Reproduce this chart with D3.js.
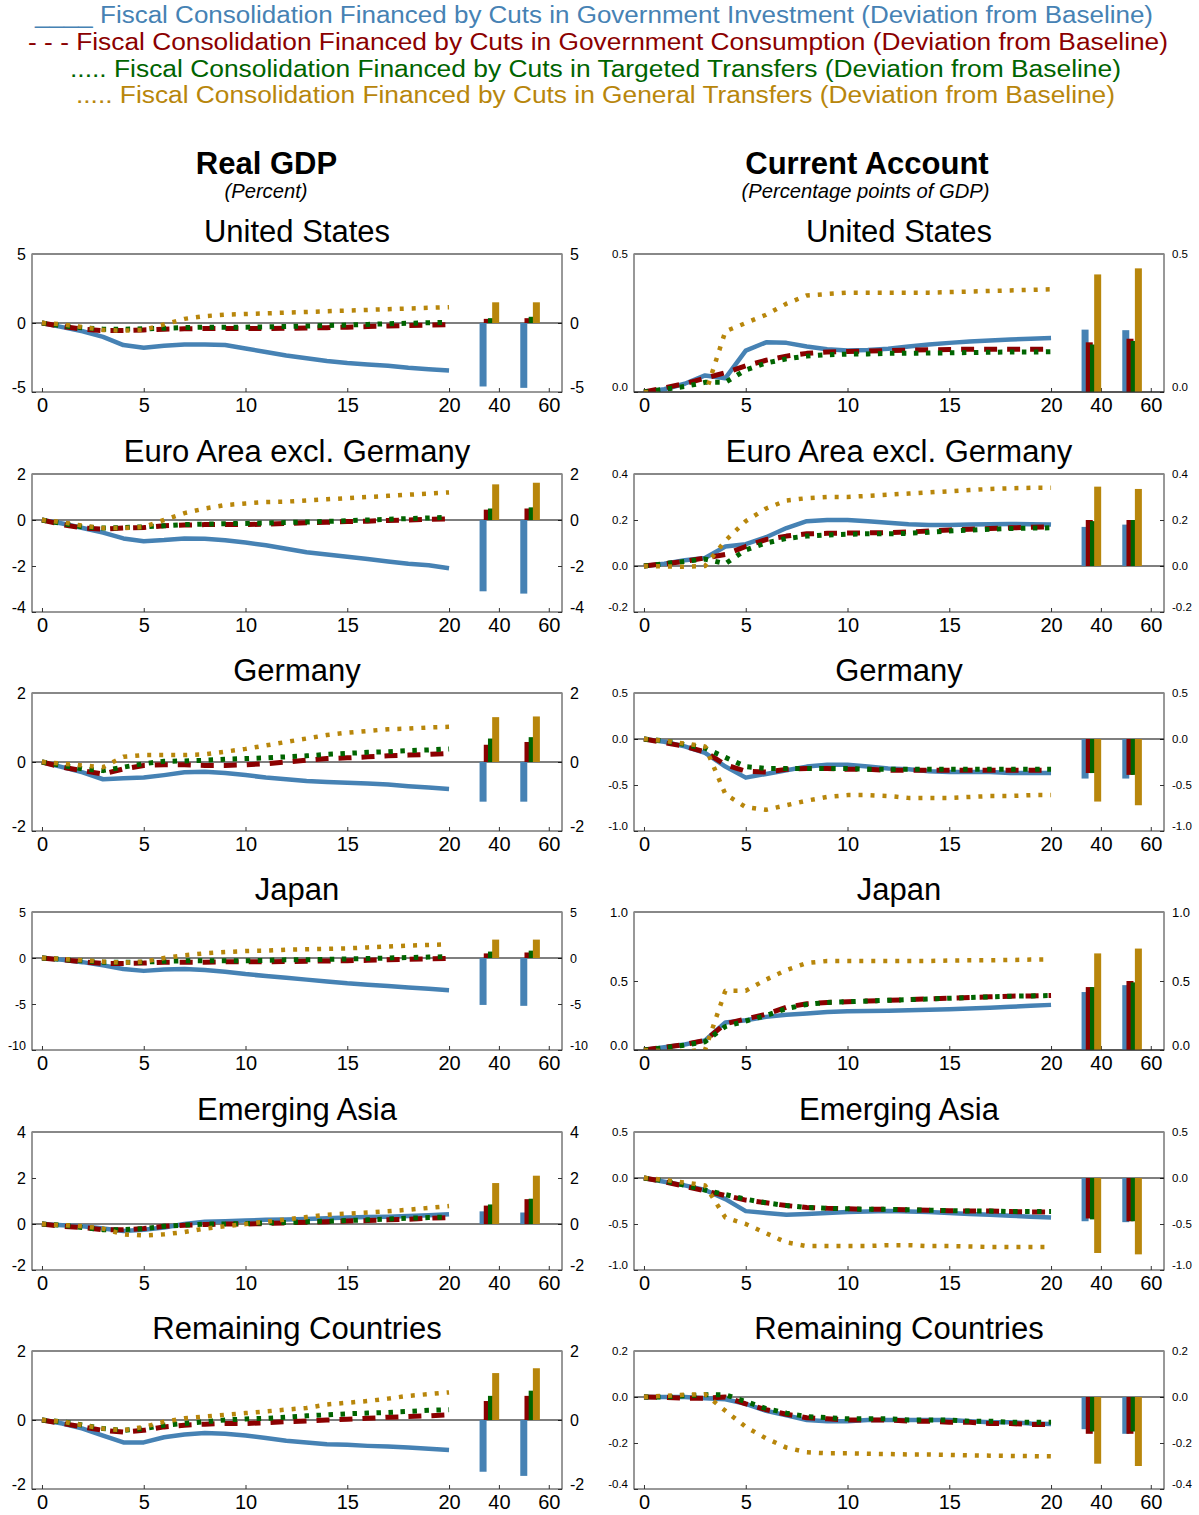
<!DOCTYPE html>
<html><head><meta charset="utf-8">
<script src="https://cdn.jsdelivr.net/npm/d3@7"></script>
<style>
body{margin:0;background:#fff}
svg text{font-family:"Liberation Sans",Arial,Helvetica,sans-serif}
</style>
</head><body>
<svg id="chart" width="1199" height="1515"></svg>
<script>
// ---------- DATA ----------
const periods = [0,1,2,3,4,5,6,7,8,9,10,11,12,13,14,15,16,17,18,19,20];
const periodTicks = [0,5,10,15,20];
const longRunLabels = ["40","60"];
const legendLabels = [
  "____ Fiscal Consolidation Financed by Cuts in Government Investment (Deviation from Baseline)",
  "- - - Fiscal Consolidation Financed by Cuts in Government Consumption (Deviation from Baseline)",
  "..... Fiscal Consolidation Financed by Cuts in Targeted Transfers (Deviation from Baseline)",
  "..... Fiscal Consolidation Financed by Cuts in General Transfers (Deviation from Baseline)"
];
const columnTitles = ["Real GDP","Current Account"];
const columnSubtitles = ["(Percent)","(Percentage points of GDP)"];
const regions = ["United States","Euro Area excl. Germany","Germany","Japan","Emerging Asia","Remaining Countries"];

// Real GDP (percent)
const usGdpInv  = [0,-0.3,-0.6,-1.0,-1.6,-1.8,-1.65,-1.55,-1.55,-1.6,-1.85,-2.1,-2.35,-2.55,-2.75,-2.9,-3.0,-3.1,-3.25,-3.35,-3.45];
const usGdpCons = [0,-0.25,-0.45,-0.55,-0.55,-0.5,-0.45,-0.42,-0.4,-0.4,-0.4,-0.4,-0.38,-0.36,-0.34,-0.3,-0.26,-0.22,-0.18,-0.15,-0.12];
const usGdpTarg = [0,-0.2,-0.35,-0.45,-0.45,-0.42,-0.38,-0.33,-0.3,-0.3,-0.3,-0.28,-0.25,-0.22,-0.18,-0.15,-0.1,-0.05,-0.02,0.02,0.05];
const usGdpGen  = [0,-0.1,-0.3,-0.5,-0.55,-0.5,-0.1,0.3,0.5,0.6,0.65,0.7,0.75,0.8,0.85,0.9,0.95,1.0,1.05,1.1,1.15];
const usGdpLR40 = [-4.6,0.3,0.35,1.5];
const usGdpLR60 = [-4.7,0.35,0.45,1.5];

const euGdpInv  = [0,-0.15,-0.35,-0.55,-0.8,-0.92,-0.87,-0.8,-0.82,-0.88,-0.98,-1.1,-1.25,-1.4,-1.5,-1.6,-1.7,-1.8,-1.9,-1.97,-2.1];
const euGdpCons = [0,-0.2,-0.35,-0.4,-0.35,-0.33,-0.25,-0.22,-0.2,-0.2,-0.2,-0.18,-0.15,-0.12,-0.1,-0.07,-0.05,-0.02,0,0.03,0.05];
const euGdpTarg = [0,-0.15,-0.3,-0.35,-0.33,-0.3,-0.25,-0.2,-0.18,-0.16,-0.15,-0.13,-0.11,-0.09,-0.06,-0.03,0,0.03,0.06,0.09,0.12];
const euGdpGen  = [0,-0.1,-0.25,-0.35,-0.35,-0.3,0.0,0.3,0.5,0.65,0.72,0.78,0.8,0.85,0.9,0.95,1.0,1.05,1.1,1.15,1.2];
const euGdpLR40 = [-3.1,0.45,0.5,1.55];
const euGdpLR60 = [-3.2,0.5,0.55,1.62];

const deGdpInv  = [0,-0.15,-0.3,-0.5,-0.47,-0.45,-0.38,-0.3,-0.28,-0.32,-0.38,-0.45,-0.5,-0.55,-0.58,-0.6,-0.62,-0.65,-0.7,-0.74,-0.78];
const deGdpCons = [0,-0.15,-0.25,-0.35,-0.2,-0.1,-0.08,-0.08,-0.1,-0.1,-0.08,-0.05,0,0.05,0.1,0.12,0.15,0.18,0.2,0.22,0.25];
const deGdpTarg = [0,-0.1,-0.2,-0.25,-0.15,-0.05,0.02,0.03,0.05,0.08,0.1,0.12,0.15,0.18,0.22,0.25,0.28,0.3,0.33,0.35,0.38];
const deGdpGen  = [0,-0.05,-0.1,-0.15,0.15,0.2,0.2,0.2,0.22,0.3,0.38,0.48,0.58,0.68,0.78,0.85,0.9,0.95,0.97,1.0,1.02];
const deGdpLR40 = [-1.15,0.5,0.68,1.3];
const deGdpLR60 = [-1.15,0.58,0.72,1.32];

const jpGdpInv  = [0,-0.2,-0.45,-0.8,-1.2,-1.4,-1.25,-1.2,-1.3,-1.5,-1.75,-1.95,-2.15,-2.35,-2.55,-2.75,-2.9,-3.05,-3.2,-3.35,-3.5];
const jpGdpCons = [0,-0.2,-0.4,-0.6,-0.6,-0.55,-0.45,-0.45,-0.45,-0.42,-0.4,-0.4,-0.38,-0.35,-0.33,-0.3,-0.25,-0.2,-0.15,-0.1,-0.05];
const jpGdpTarg = [0,-0.15,-0.3,-0.45,-0.45,-0.45,-0.35,-0.3,-0.3,-0.3,-0.3,-0.25,-0.2,-0.2,-0.15,-0.1,-0.05,0,0.05,0.1,0.15];
const jpGdpGen  = [0,-0.1,-0.25,-0.4,-0.5,-0.4,0,0.3,0.5,0.65,0.75,0.8,0.9,0.95,1.0,1.05,1.15,1.25,1.35,1.42,1.5];
const jpGdpLR40 = [-5.1,0.5,0.7,2.0];
const jpGdpLR60 = [-5.2,0.6,0.8,2.0];

const asGdpInv  = [0,-0.05,-0.1,-0.2,-0.3,-0.25,-0.15,0,0.1,0.12,0.15,0.18,0.2,0.22,0.25,0.28,0.3,0.32,0.35,0.38,0.42];
const asGdpCons = [0,-0.1,-0.15,-0.25,-0.25,-0.2,-0.1,-0.05,-0.02,0,0,0.02,0.05,0.08,0.1,0.13,0.15,0.18,0.2,0.25,0.28];
const asGdpTarg = [0,-0.05,-0.15,-0.25,-0.25,-0.2,-0.1,-0.05,0,0,0.02,0.05,0.07,0.1,0.12,0.15,0.18,0.22,0.25,0.28,0.3];
const asGdpGen  = [0,-0.05,-0.1,-0.2,-0.45,-0.5,-0.45,-0.35,-0.2,-0.1,0,0.1,0.2,0.3,0.4,0.45,0.5,0.55,0.62,0.7,0.78];
const asGdpLR40 = [0.55,0.8,0.85,1.78];
const asGdpLR60 = [0.5,1.08,1.1,2.1];

const rcGdpInv  = [0,-0.1,-0.25,-0.45,-0.65,-0.65,-0.5,-0.42,-0.38,-0.4,-0.45,-0.52,-0.6,-0.65,-0.7,-0.72,-0.75,-0.77,-0.8,-0.83,-0.87];
const rcGdpCons = [0,-0.1,-0.2,-0.3,-0.35,-0.3,-0.2,-0.15,-0.12,-0.1,-0.1,-0.08,-0.05,-0.03,0,0.02,0.05,0.08,0.1,0.12,0.15];
const rcGdpTarg = [0,-0.05,-0.15,-0.25,-0.3,-0.25,-0.15,-0.1,-0.05,0,0.03,0.05,0.08,0.12,0.15,0.18,0.2,0.22,0.25,0.28,0.3];
const rcGdpGen  = [0,-0.05,-0.15,-0.25,-0.3,-0.2,-0.05,0.05,0.1,0.15,0.2,0.25,0.3,0.35,0.45,0.5,0.55,0.62,0.7,0.75,0.8];
const rcGdpLR40 = [-1.5,0.55,0.7,1.36];
const rcGdpLR60 = [-1.62,0.7,0.85,1.5];

// Current account (percentage points of GDP)
const usCaInv  = [0,0.01,0.03,0.06,0.05,0.15,0.18,0.178,0.165,0.155,0.15,0.152,0.157,0.165,0.172,0.178,0.183,0.187,0.19,0.193,0.196];
const usCaCons = [0,0.015,0.03,0.05,0.07,0.095,0.115,0.13,0.14,0.145,0.147,0.148,0.15,0.152,0.153,0.154,0.155,0.155,0.155,0.155,0.155];
const usCaTarg = [0,0.01,0.02,0.035,0.035,0.08,0.105,0.12,0.13,0.135,0.137,0.138,0.14,0.14,0.141,0.142,0.143,0.144,0.145,0.145,0.146];
const usCaGen  = [0,-0.01,-0.01,-0.01,0.22,0.25,0.28,0.32,0.35,0.355,0.36,0.36,0.36,0.36,0.36,0.362,0.364,0.366,0.368,0.37,0.372];
const usCaLR40 = [0.226,0.18,0.172,0.426];
const usCaLR60 = [0.224,0.193,0.185,0.448];

const euCaInv  = [0,0.01,0.025,0.035,0.085,0.095,0.125,0.165,0.195,0.2,0.2,0.195,0.188,0.182,0.178,0.178,0.18,0.182,0.183,0.182,0.18];
const euCaCons = [0,0.01,0.02,0.035,0.05,0.085,0.115,0.13,0.14,0.142,0.143,0.144,0.145,0.148,0.152,0.157,0.16,0.163,0.166,0.168,0.17];
const euCaTarg = [0,0.01,0.02,0.03,0.01,0.07,0.1,0.12,0.13,0.135,0.138,0.14,0.14,0.142,0.147,0.152,0.156,0.16,0.163,0.165,0.166];
const euCaGen  = [0,-0.002,-0.003,0,0.11,0.195,0.25,0.285,0.295,0.3,0.3,0.305,0.31,0.315,0.32,0.325,0.33,0.335,0.338,0.34,0.34];
const euCaLR40 = [0.17,0.2,0.195,0.345];
const euCaLR60 = [0.18,0.2,0.2,0.335];

const deCaInv  = [0,-0.03,-0.08,-0.15,-0.3,-0.42,-0.38,-0.34,-0.3,-0.28,-0.28,-0.3,-0.32,-0.33,-0.35,-0.36,-0.36,-0.36,-0.37,-0.37,-0.37];
const deCaCons = [0,-0.04,-0.08,-0.14,-0.28,-0.35,-0.36,-0.33,-0.32,-0.32,-0.33,-0.33,-0.34,-0.34,-0.34,-0.34,-0.34,-0.34,-0.34,-0.34,-0.34];
const deCaTarg = [0,-0.02,-0.06,-0.1,-0.2,-0.3,-0.32,-0.32,-0.32,-0.32,-0.32,-0.33,-0.33,-0.33,-0.33,-0.33,-0.33,-0.33,-0.33,-0.33,-0.33];
const deCaGen  = [0,-0.02,-0.05,-0.08,-0.6,-0.74,-0.77,-0.72,-0.67,-0.63,-0.61,-0.61,-0.62,-0.64,-0.64,-0.64,-0.63,-0.62,-0.62,-0.61,-0.61];
const deCaLR40 = [-0.43,-0.37,-0.37,-0.68];
const deCaLR60 = [-0.43,-0.39,-0.39,-0.72];

const jpCaInv  = [0,0.02,0.04,0.07,0.2,0.215,0.24,0.255,0.265,0.275,0.28,0.282,0.285,0.288,0.292,0.296,0.3,0.306,0.313,0.32,0.327];
const jpCaCons = [0,0.02,0.04,0.07,0.19,0.225,0.26,0.31,0.335,0.345,0.35,0.355,0.36,0.365,0.37,0.375,0.38,0.385,0.39,0.392,0.395];
const jpCaTarg = [0,0.015,0.035,0.06,0.17,0.21,0.25,0.3,0.33,0.345,0.35,0.355,0.36,0.365,0.37,0.375,0.38,0.385,0.39,0.392,0.395];
const jpCaGen  = [0,-0.01,-0.01,0,0.43,0.43,0.51,0.58,0.63,0.645,0.645,0.645,0.645,0.645,0.645,0.648,0.65,0.65,0.652,0.655,0.657];
const jpCaLR40 = [0.42,0.456,0.456,0.7];
const jpCaLR60 = [0.47,0.5,0.49,0.735];

const asCaInv  = [0,-0.04,-0.08,-0.13,-0.23,-0.36,-0.38,-0.4,-0.39,-0.38,-0.37,-0.365,-0.36,-0.365,-0.37,-0.38,-0.39,-0.4,-0.41,-0.42,-0.43];
const asCaCons = [0,-0.04,-0.09,-0.14,-0.19,-0.24,-0.27,-0.3,-0.32,-0.33,-0.335,-0.34,-0.34,-0.345,-0.35,-0.355,-0.36,-0.36,-0.365,-0.37,-0.37];
const asCaTarg = [0,-0.03,-0.08,-0.13,-0.18,-0.23,-0.27,-0.3,-0.32,-0.33,-0.335,-0.34,-0.34,-0.345,-0.35,-0.355,-0.36,-0.36,-0.365,-0.365,-0.365];
const asCaGen  = [0,-0.02,-0.05,-0.08,-0.43,-0.5,-0.6,-0.7,-0.74,-0.74,-0.74,-0.74,-0.73,-0.73,-0.74,-0.74,-0.745,-0.75,-0.75,-0.75,-0.75];
const asCaLR40 = [-0.47,-0.44,-0.45,-0.815];
const asCaLR60 = [-0.48,-0.47,-0.47,-0.83];

const rcCaInv  = [0,0,0,-0.005,-0.01,-0.03,-0.06,-0.08,-0.1,-0.105,-0.105,-0.1,-0.1,-0.1,-0.1,-0.1,-0.105,-0.11,-0.11,-0.115,-0.117];
const rcCaCons = [0,-0.002,-0.005,-0.005,0,-0.03,-0.055,-0.075,-0.09,-0.095,-0.1,-0.1,-0.1,-0.105,-0.105,-0.11,-0.11,-0.115,-0.115,-0.12,-0.12];
const rcCaTarg = [0,0,0.005,0.01,0.01,-0.02,-0.05,-0.07,-0.085,-0.09,-0.095,-0.095,-0.095,-0.1,-0.1,-0.1,-0.105,-0.105,-0.11,-0.11,-0.11];
const rcCaGen  = [0,0.005,0.01,0.012,-0.06,-0.13,-0.18,-0.22,-0.24,-0.245,-0.245,-0.247,-0.248,-0.25,-0.25,-0.252,-0.254,-0.255,-0.256,-0.257,-0.258];
const rcCaLR40 = [-0.14,-0.16,-0.15,-0.29];
const rcCaLR60 = [-0.16,-0.16,-0.15,-0.3];

// y-axis tick values
const gdpTicks = [[-5,0,5],[-4,-2,0,2],[-2,0,2],[-10,-5,0,5],[-2,0,2,4],[-2,0,2]];
const caTicks  = [[0,0.5],[-0.2,0,0.2,0.4],[-1,-0.5,0,0.5],[0,0.5,1],[-1,-0.5,0,0.5],[-0.4,-0.2,0,0.2]];

// ---------- STYLE / LAYOUT ----------
const colors = ["#4682b4","#8b0000","#006400","#b8860b"];
const widths = [4.5,5,5,4.5];
const dashes = [null,"13,10","4.5,7.5","4,8"];
const legendCenters = [594,598,595.5,595.5];
const legendWidths = [1118,1140,1051,1039];
const colLeft = [32,634], boxW = 530, boxH = 138;
const rowTop = [254,474,693,912,1132,1351];
const xDomain = [-0.49,25.55];
const lrPos = [22.45,24.9];       // where "40" and "60" labels sit
const lrGroupLeft = [21.5,23.5];  // left edge of each bar group
const barW = 7, barStep = 4.2;

// ---------- BUILD TABLE ----------
const gdpPanels = [
  [usGdpInv,usGdpCons,usGdpTarg,usGdpGen,usGdpLR40,usGdpLR60],
  [euGdpInv,euGdpCons,euGdpTarg,euGdpGen,euGdpLR40,euGdpLR60],
  [deGdpInv,deGdpCons,deGdpTarg,deGdpGen,deGdpLR40,deGdpLR60],
  [jpGdpInv,jpGdpCons,jpGdpTarg,jpGdpGen,jpGdpLR40,jpGdpLR60],
  [asGdpInv,asGdpCons,asGdpTarg,asGdpGen,asGdpLR40,asGdpLR60],
  [rcGdpInv,rcGdpCons,rcGdpTarg,rcGdpGen,rcGdpLR40,rcGdpLR60]
];
const caPanels = [
  [usCaInv,usCaCons,usCaTarg,usCaGen,usCaLR40,usCaLR60],
  [euCaInv,euCaCons,euCaTarg,euCaGen,euCaLR40,euCaLR60],
  [deCaInv,deCaCons,deCaTarg,deCaGen,deCaLR40,deCaLR60],
  [jpCaInv,jpCaCons,jpCaTarg,jpCaGen,jpCaLR40,jpCaLR60],
  [asCaInv,asCaCons,asCaTarg,asCaGen,asCaLR40,asCaLR60],
  [rcCaInv,rcCaCons,rcCaTarg,rcCaGen,rcCaLR40,rcCaLR60]
];

const svg = d3.select("#chart");

// legend
svg.append("g").selectAll("text").data(legendLabels).join("text")
  .attr("x",(d,i)=>legendCenters[i]).attr("y",(d,i)=>23+i*26.8)
  .attr("text-anchor","middle").attr("font-size",23)
  .attr("textLength",(d,i)=>legendWidths[i]).attr("lengthAdjust","spacingAndGlyphs")
  .attr("fill",(d,i)=>colors[i]).text(d=>d);

// column headers
[0,1].forEach(c=>{
  const cx = c===0 ? 266.5 : 867;
  svg.append("text").attr("x",cx).attr("y",174).attr("text-anchor","middle")
    .attr("font-size",31).attr("font-weight","bold").text(columnTitles[c]);
  svg.append("text").attr("x",c===0?266:865.5).attr("y",198).attr("text-anchor","middle")
    .attr("font-size",20.2).attr("font-style","italic").text(columnSubtitles[c]);
});

function drawPanel(c,r,series,ticks){
  const left = colLeft[c], top = rowTop[r];
  const x = d3.scaleLinear().domain(xDomain).range([left,left+boxW]);
  const y = d3.scaleLinear().domain([d3.min(ticks),d3.max(ticks)]).range([top+boxH,top]);
  const g = svg.append("g");
  const cid = "clip"+c+"_"+r;
  g.append("clipPath").attr("id",cid).append("rect")
    .attr("x",left).attr("y",top).attr("width",boxW).attr("height",boxH);

  // title
  g.append("text").attr("x",left+boxW/2).attr("y",top-12).attr("text-anchor","middle")
    .attr("font-size",31).text(regions[r]);

  const isJapan = r===3;
  const fsY = c===0 ? (isJapan?12.5:16) : (isJapan?13:11.5);
  const fmt = c===0 ? (v=>String(v)) : (v=>v.toFixed(1));
  const ymin = d3.min(ticks);

  // y axes
  const yl = g.append("g").attr("transform",`translate(${left},0)`)
    .call(d3.axisLeft(y).tickValues(ticks).tickSize(-4).tickPadding(6).tickFormat(fmt));
  const yr = g.append("g").attr("transform",`translate(${left+boxW},0)`)
    .call(d3.axisRight(y).tickValues(ticks).tickSize(-4).tickPadding(8).tickFormat(fmt));
  [yl,yr].forEach(a=>{
    a.select(".domain").remove();
    a.selectAll("line").attr("stroke","#333");
    a.selectAll("text").attr("font-size",fsY).attr("font-family",null).attr("fill","#000")
      .attr("y",d=>d===ymin?-5:0);
  });

  // x axis
  const xTickVals = periodTicks.concat(lrPos);
  const xl = g.append("g").attr("transform",`translate(0,${top+boxH})`)
    .call(d3.axisBottom(x).tickValues(xTickVals).tickSize(-4).tickPadding(6)
      .tickFormat((d,i)=> i<periodTicks.length ? String(d) : longRunLabels[i-periodTicks.length]));
  xl.select(".domain").remove();
  xl.selectAll("line").attr("stroke","#333");
  xl.selectAll("text").attr("font-size",20).attr("font-family",null).attr("fill","#000");

  // zero line
  g.append("line").attr("x1",left).attr("x2",left+boxW).attr("y1",y(0)).attr("y2",y(0))
    .attr("stroke","#000").attr("stroke-width",1.2);

  // lines
  const line = d3.line().x((d,i)=>x(periods[i])).y(d=>y(d));
  const lg = g.append("g").attr("clip-path",`url(#${cid})`);
  for(let s=0;s<4;s++){
    lg.append("path").attr("d",line(series[s])).attr("fill","none")
      .attr("stroke",colors[s]).attr("stroke-width",widths[s])
      .attr("stroke-dasharray",dashes[s]).attr("stroke-linejoin","round");
  }

  // long-run bars
  [series[4],series[5]].forEach((vals,gi)=>{
    const gx = x(lrGroupLeft[gi]);
    g.append("g").selectAll("rect").data(vals).join("rect")
      .attr("x",(d,i)=>gx+i*barStep).attr("width",barW)
      .attr("y",d=>Math.min(y(0),y(d))).attr("height",d=>Math.abs(y(d)-y(0)))
      .attr("fill",(d,i)=>colors[i]);
  });

  // box
  g.append("rect").attr("x",left).attr("y",top).attr("width",boxW).attr("height",boxH)
    .attr("fill","none").attr("stroke","#333").attr("stroke-width",1);
  g.append("line").attr("x1",left).attr("x2",left+boxW).attr("y1",top).attr("y2",top)
    .attr("stroke","#888").attr("stroke-width",2);
}

for(let r=0;r<6;r++){
  drawPanel(0,r,gdpPanels[r],gdpTicks[r]);
  drawPanel(1,r,caPanels[r],caTicks[r]);
}
</script>
</body></html>
